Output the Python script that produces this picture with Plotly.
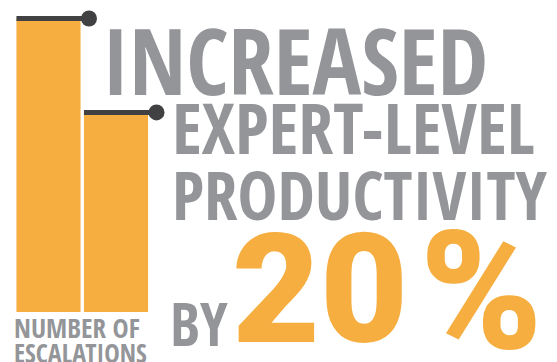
import plotly.graph_objects as go

# Data
categories = [0, 1]
escalations = [100, 68]
headline_lines = ["INCREASED", "EXPERT-LEVEL", "PRODUCTIVITY"]
by_label = "BY"
pct_value = "20"
pct_sign = "%"
axis_label = ["NUMBER OF", "ESCALATIONS"]

ORANGE = "#F6AE40"
GRAY = "#939598"
DARK = "#414042"
W, H = 557, 362
FONT = "Open Sans Condensed, Roboto Condensed, sans-serif"
BIG_FONT = "Roboto, Open Sans, sans-serif"

fig = go.Figure()
fig.add_trace(go.Bar(x=categories, y=escalations, marker=dict(color=ORANGE, line=dict(width=0)),
                     width=0.95, hoverinfo="skip"))
# top lines with dot
for c, v in zip(categories, escalations):
    fig.add_trace(go.Scatter(x=[c - 0.475, c + 0.6], y=[v, v], mode="lines",
                             line=dict(color=DARK, width=5), hoverinfo="skip"))
    fig.add_trace(go.Scatter(x=[c + 0.6], y=[v], mode="markers",
                             marker=dict(color=DARK, size=16), hoverinfo="skip"))

def px(x):
    return x / W

def py(y):
    return 1 - y / H

def ann(text, x, y, size, color, family=FONT, weight=700):
    fig.add_annotation(text=text, x=px(x), y=py(y), xref="paper", yref="paper",
                       xanchor="left", yanchor="middle", showarrow=False,
                       font=dict(family=family, size=size, color=color, weight=weight))

ann(headline_lines[0], 100, 60, 91, GRAY)
ann(headline_lines[1], 170, 127, 70, GRAY)
ann(headline_lines[2], 170, 194, 67, GRAY)
ann(by_label, 168, 323, 59, GRAY)
ann(pct_value, 230, 290, 152, ORANGE, BIG_FONT, 900)
ann(pct_sign, 418, 291, 165, ORANGE, BIG_FONT, 900)
ann(axis_label[0], 12, 327, 27, GRAY)
ann(axis_label[1], 12, 353, 26, GRAY)

fig.update_layout(
    width=W, height=H, margin=dict(l=0, r=0, t=0, b=0),
    showlegend=False, plot_bgcolor="white", paper_bgcolor="white", bargap=0.05,
    xaxis=dict(range=[-0.7185, 7.533], visible=False, fixedrange=True),
    yaxis=dict(range=[-17.04, 106.3], visible=False, fixedrange=True),
)
fig.write_html("out.html")
